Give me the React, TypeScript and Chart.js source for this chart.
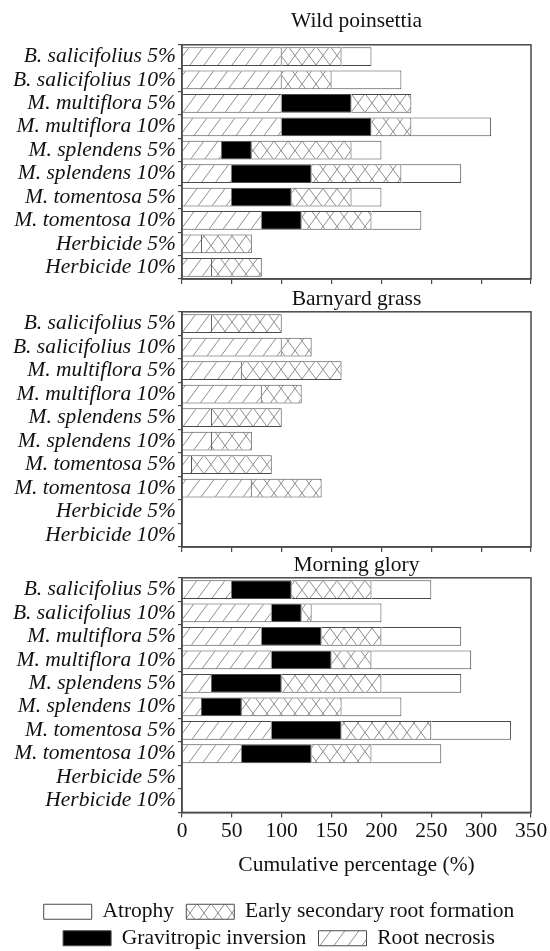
import { useEffect, useRef } from 'react';
import { Chart, registerables } from 'chart.js';

Chart.register(...registerables);

// ---------- data ----------
const categories = [
  'B. salicifolius 5%',
  'B. salicifolius 10%',
  'M. multiflora 5%',
  'M. multiflora 10%',
  'M. splendens 5%',
  'M. splendens 10%',
  'M. tomentosa 5%',
  'M. tomentosa 10%',
  'Herbicide 5%',
  'Herbicide 10%',
];
const seriesNames = ['Root necrosis', 'Gravitropic inversion', 'Early secondary root formation', 'Atrophy'];
const xTickMin = 0;
const xTickMax = 350;
const xTickStep = 50;
const xAxisTitle = 'Cumulative percentage (%)';
const panelTitles = ['Wild poinsettia', 'Barnyard grass', 'Morning glory'];

// Wild poinsettia
const wpRootNecrosis = [100, 100, 100, 100, 40, 50, 50, 80, 20, 30];
const wpGravitropic = [0, 0, 70, 90, 30, 80, 60, 40, 0, 0];
const wpEarlySecondary = [60, 50, 60, 40, 100, 90, 60, 70, 50, 50];
const wpAtrophy = [30, 70, 0, 80, 30, 60, 30, 50, 0, 0];

// Barnyard grass
const bgRootNecrosis = [30, 100, 60, 80, 30, 30, 10, 70, 0, 0];
const bgGravitropic = [0, 0, 0, 0, 0, 0, 0, 0, 0, 0];
const bgEarlySecondary = [70, 30, 100, 40, 70, 40, 80, 70, 0, 0];
const bgAtrophy = [0, 0, 0, 0, 0, 0, 0, 0, 0, 0];

// Morning glory
const mgRootNecrosis = [50, 90, 80, 90, 30, 20, 90, 60, 0, 0];
const mgGravitropic = [60, 30, 60, 60, 70, 40, 70, 70, 0, 0];
const mgEarlySecondary = [80, 10, 60, 40, 100, 100, 90, 60, 0, 0];
const mgAtrophy = [60, 70, 80, 100, 80, 60, 80, 70, 0, 0];

// ---------- styling ----------
const FONT = 'Liberation Serif';
const FS = 21.5;
const TEXT = '#111';
const LINE = '#4a4a4a';
const rowLeadItems = ['Atrophy', 'Gravitropic inversion'];

function makeHatch(kind: 'diag' | 'cross'): CanvasPattern | string {
  const w = 14;
  const h = 19;
  const c = document.createElement('canvas');
  c.width = w;
  c.height = h;
  const g = c.getContext('2d');
  if (!g) return '#fff';
  g.fillStyle = '#fff';
  g.fillRect(0, 0, w, h);
  g.strokeStyle = '#8f8f8f';
  g.lineWidth = 1;
  g.beginPath();
  for (const o of [-w, 0, w]) {
    g.moveTo(o, h);
    g.lineTo(o + w, 0);
    if (kind === 'cross') {
      g.moveTo(o, 0);
      g.lineTo(o + w, h);
    }
  }
  g.stroke();
  return g.createPattern(c, 'repeat') || '#fff';
}

const framePlugin = {
  id: 'frame',
  afterDraw(chart: any) {
    const { ctx, chartArea: a } = chart;
    ctx.save();
    ctx.strokeStyle = LINE;
    ctx.lineWidth = 1.5;
    ctx.strokeRect(a.left, a.top, a.right - a.left, a.bottom - a.top);
    ctx.restore();
  },
};

type PanelProps = {
  title: string;
  values: number[][];
  height: number;
  last?: boolean;
  titlePad: { top: number; bottom: number };
};

function Panel({ title, values, height, last = false, titlePad }: PanelProps) {
  const ref = useRef<HTMLCanvasElement | null>(null);

  useEffect(() => {
    if (!ref.current) return;
    const fills = [makeHatch('diag'), '#000000', makeHatch('cross'), '#ffffff'];
    const font = { family: FONT, size: FS };
    const chart = new Chart(ref.current, {
      type: 'bar',
      data: {
        labels: categories,
        datasets: seriesNames.map((name, i) => ({
          label: name,
          data: values[i].map((v) => (v === 0 ? null : v)),
          backgroundColor: fills[i] as any,
          borderColor: LINE,
          borderWidth: 1,
          borderSkipped: 'start',
          barPercentage: 0.8,
          categoryPercentage: 1,
          xAxisID: 'x',
          yAxisID: 'y',
        })) as any,
      },
      options: {
        indexAxis: 'y',
        animation: false,
        responsive: true,
        maintainAspectRatio: false,
        devicePixelRatio: 1,
        layout: { padding: { left: 0, right: 0, top: 0, bottom: last ? -8 : 0 } },
        plugins: {
          title: {
            display: true,
            text: title,
            fullSize: false,
            color: TEXT,
            font: { family: FONT, size: FS, weight: 'normal' },
            padding: titlePad,
          },
          legend: {
            display: last,
            position: 'bottom',
            labels: {
              color: TEXT,
              font,
              boxWidth: 48,
              boxHeight: 15,
              padding: 5,
              sort: (a: any, b: any) => b.datasetIndex - a.datasetIndex,
              generateLabels: (c: any) => {
                const items = Chart.defaults.plugins.legend.labels.generateLabels(c);
                items.forEach((it: any) => {
                  if (rowLeadItems.includes(it.text)) it.text = it.text + '\u2004';
                });
                return items;
              },
            },
          },
          tooltip: { enabled: false },
        },
        scales: {
          x: {
            type: 'linear',
            stacked: true,
            min: xTickMin,
            max: xTickMax,
            ticks: {
              stepSize: xTickStep,
              display: last,
              color: TEXT,
              font,
              padding: 1,
              maxRotation: 0,
            },
            grid: { drawOnChartArea: false, drawTicks: true, tickLength: 5, color: LINE, lineWidth: 1.2 },
            border: { display: true, color: LINE, width: 1.5 },
            title: {
              display: last,
              text: xAxisTitle,
              color: TEXT,
              font,
              padding: { top: 7, bottom: 18 },
            },
          },
          y: {
            type: 'category',
            stacked: true,
            position: 'left',
            afterFit: (s: any) => {
              s.width = 174;
              s.paddingTop = 0;
              s.paddingBottom = 0;
            },
            ticks: {
              color: TEXT,
              font: { family: FONT, size: FS, style: 'italic' },
              padding: 2,
              autoSkip: false,
            },
            grid: { drawOnChartArea: false, tickLength: 4, color: LINE, lineWidth: 1.2, offset: true },
            border: { display: true, color: LINE, width: 1.5 },
          },
          yR: {
            type: 'category',
            position: 'right',
            display: true,
            grid: { display: false, drawTicks: false },
            border: { display: false },
            ticks: { display: false },
            afterFit: (s: any) => {
              s.width = 19;
              s.paddingTop = 0;
              s.paddingBottom = 0;
            },
          },
        },
      } as any,
      plugins: [framePlugin],
    });
    return () => chart.destroy();
  }, [title, values, last]);

  return (
    <div style={{ position: 'relative', width: 542, height }}>
      <canvas ref={ref} />
    </div>
  );
}

const wpValues = [wpRootNecrosis, wpGravitropic, wpEarlySecondary, wpAtrophy];
const bgValues = [bgRootNecrosis, bgGravitropic, bgEarlySecondary, bgAtrophy];
const mgValues = [mgRootNecrosis, mgGravitropic, mgEarlySecondary, mgAtrophy];

export default function App() {
  return (
    <div style={{ paddingTop: 8, paddingLeft: 8, width: 542, height: 943, overflow: 'hidden' }}>
      <style>{'html,body{margin:0;padding:0;}'}</style>
      <Panel title={panelTitles[0]} values={wpValues} height={276} titlePad={{ top: 0, bottom: 11 }} />
      <Panel title={panelTitles[1]} values={bgValues} height={268} titlePad={{ top: 2, bottom: 0 }} />
      <Panel title={panelTitles[2]} values={mgValues} height={399} titlePad={{ top: 0, bottom: 0 }} last />
    </div>
  );
}
